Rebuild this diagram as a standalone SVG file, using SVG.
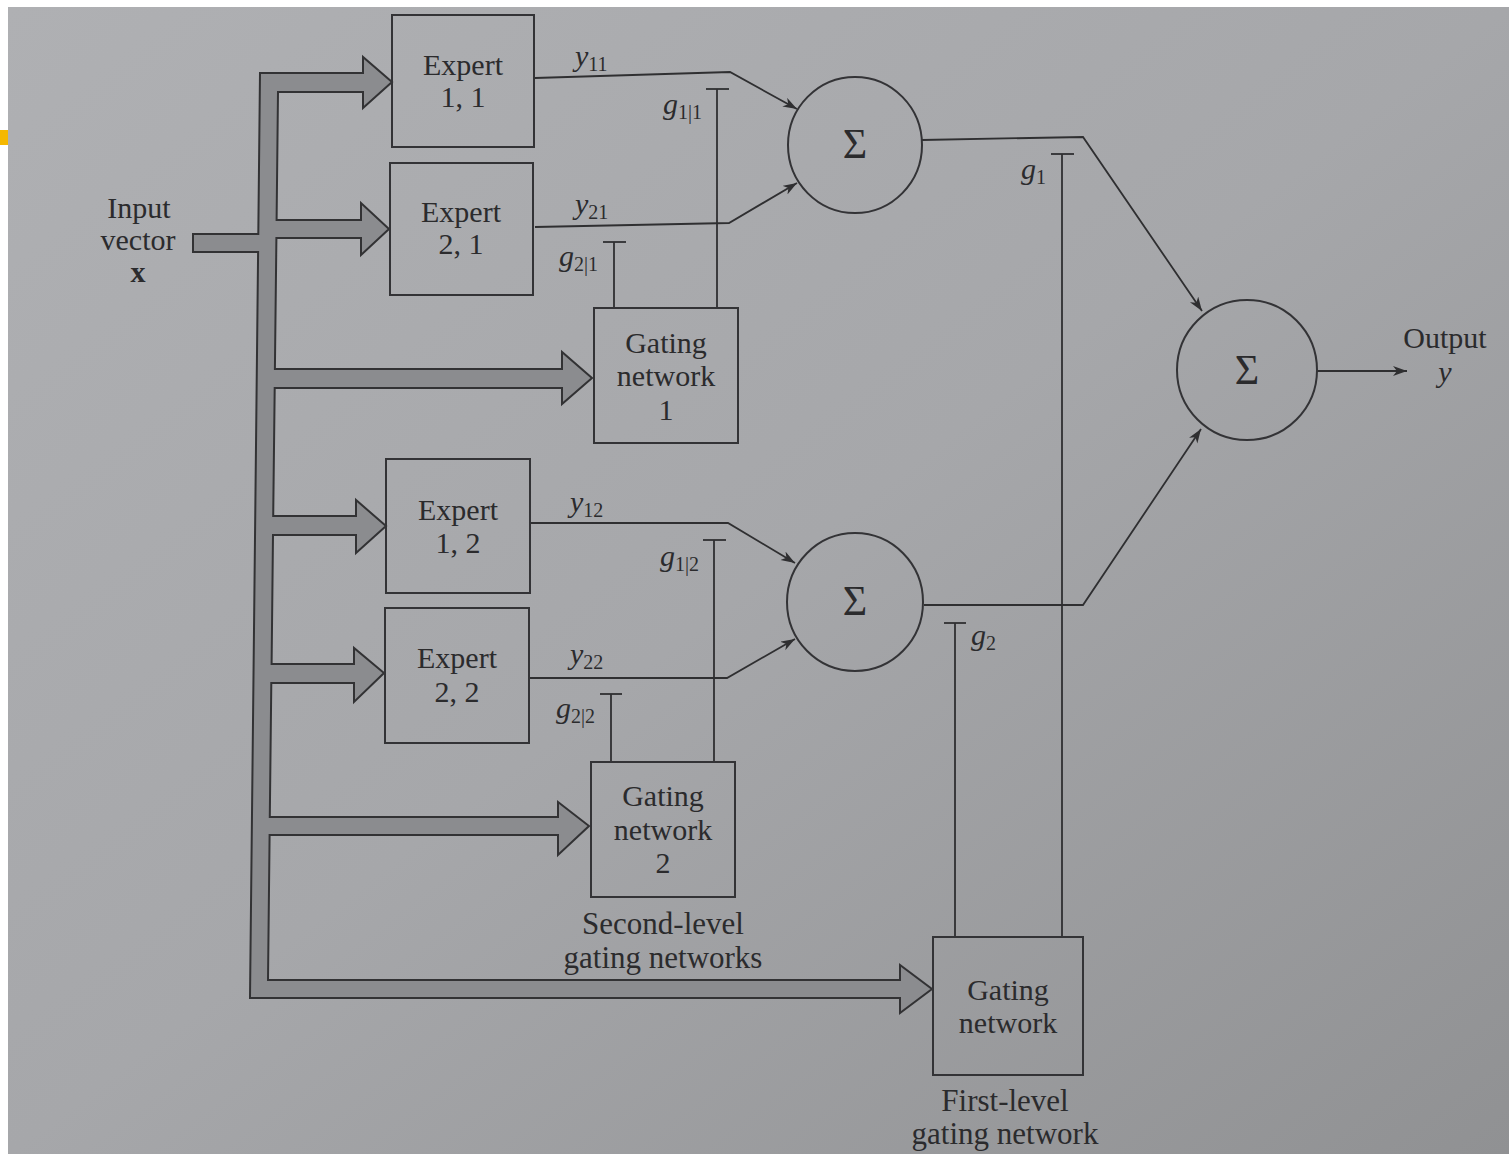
<svg xmlns="http://www.w3.org/2000/svg" width="1509" height="1154" viewBox="0 0 1509 1154">
<defs>
<linearGradient id="paper" x1="0" y1="0" x2="1" y2="1">
<stop offset="0" stop-color="#afb0b3"/>
<stop offset="0.5" stop-color="#a6a7aa"/>
<stop offset="1" stop-color="#909193"/>
</linearGradient>
<marker id="ah" markerUnits="userSpaceOnUse" markerWidth="16" markerHeight="12" refX="14" refY="5" orient="auto">
<path d="M0,0 L14,5 L0,10 L4,5 z" fill="#2f2f31"/>
</marker>
<style>
.box{fill:none;stroke:#333336;stroke-width:2}
.ln{fill:none;stroke:#2f2f31;stroke-width:1.8}
.t{font-family:"Liberation Serif","Times New Roman",serif;font-size:30px;fill:#2b2b2d;text-anchor:middle}
.c{font-family:"Liberation Serif","Times New Roman",serif;font-size:31px;fill:#2b2b2d;text-anchor:middle}
.l{font-family:"Liberation Serif","Times New Roman",serif;font-size:30px;fill:#2b2b2d}
.it{font-style:italic}
.sub{font-size:20px;font-style:normal}
.sig{font-family:"Liberation Serif","Times New Roman",serif;font-size:42px;fill:#2b2b2d;text-anchor:middle}
</style>
</defs>
<rect x="0" y="0" width="1509" height="1154" fill="#ffffff"/>
<rect x="8" y="7" width="1501" height="1147" fill="url(#paper)"/>
<rect x="0" y="130" width="8" height="15" fill="#f5b800"/>

<g id="bus">
<path d="M260,73 L363,73 L363,57 L392,82 L363,108 L363,92 L278,92 L276.6,220 L361,220 L361,203 L389,229 L361,255 L361,238 L276.4,238 L274.9,369 L562,369 L562,352 L592,378 L562,404 L562,388 L274.7,388 L273.2,516 L356,516 L356,500 L386,526 L356,553 L356,535 L273,535 L271.6,664 L354,664 L354,648 L384,673 L354,702 L354,683 L271.3,683 L269.8,817 L558,817 L558,802 L589,826 L558,855 L558,835 L269.6,835 L268,980 L900,980 L900,965 L932,989 L900,1013 L900,998 L250,998 L258.1,252 L193,252 L193,234 L258.3,234 Z" fill="#8b8c8f" stroke="#323234" stroke-width="2" stroke-linejoin="miter"/>
</g>

<g id="connectors">
<polyline class="ln" points="535,78 730,72 797,109" marker-end="url(#ah)"/>
<polyline class="ln" points="535,227 729,223 797,183" marker-end="url(#ah)"/>
<line class="ln" x1="717" y1="308" x2="717" y2="89"/>
<line class="ln" x1="706" y1="89" x2="729" y2="89"/>
<line class="ln" x1="614" y1="308" x2="614" y2="242"/>
<line class="ln" x1="603" y1="242" x2="626" y2="242"/>
<polyline class="ln" points="530,523 728,523 795,563" marker-end="url(#ah)"/>
<polyline class="ln" points="529,678 727,678 795,639" marker-end="url(#ah)"/>
<line class="ln" x1="714" y1="762" x2="714" y2="540"/>
<line class="ln" x1="703" y1="540" x2="726" y2="540"/>
<line class="ln" x1="611" y1="762" x2="611" y2="694"/>
<line class="ln" x1="600" y1="694" x2="622" y2="694"/>
<polyline class="ln" points="922,140 1083,137 1202,311" marker-end="url(#ah)"/>
<polyline class="ln" points="924,605 1083,605 1201,429" marker-end="url(#ah)"/>
<line class="ln" x1="1062" y1="937" x2="1062" y2="154"/>
<line class="ln" x1="1051" y1="154" x2="1074" y2="154"/>
<line class="ln" x1="955" y1="937" x2="955" y2="623"/>
<line class="ln" x1="944" y1="623" x2="966" y2="623"/>
<line class="ln" x1="1317" y1="371" x2="1407" y2="371" marker-end="url(#ah)"/>
</g>

<g id="labels">
<text class="l" x="575" y="66"><tspan class="it">y</tspan><tspan class="sub" dy="5">11</tspan></text>
<text class="l" x="575" y="214"><tspan class="it">y</tspan><tspan class="sub" dy="5">21</tspan></text>
<text class="l" x="663" y="114"><tspan class="it">g</tspan><tspan class="sub" dy="5">1|1</tspan></text>
<text class="l" x="559" y="266"><tspan class="it">g</tspan><tspan class="sub" dy="5">2|1</tspan></text>
<text class="l" x="570" y="512"><tspan class="it">y</tspan><tspan class="sub" dy="5">12</tspan></text>
<text class="l" x="570" y="664"><tspan class="it">y</tspan><tspan class="sub" dy="5">22</tspan></text>
<text class="l" x="660" y="566"><tspan class="it">g</tspan><tspan class="sub" dy="5">1|2</tspan></text>
<text class="l" x="556" y="718"><tspan class="it">g</tspan><tspan class="sub" dy="5">2|2</tspan></text>
<text class="l" x="1021" y="179"><tspan class="it">g</tspan><tspan class="sub" dy="5">1</tspan></text>
<text class="l" x="971" y="645"><tspan class="it">g</tspan><tspan class="sub" dy="5">2</tspan></text>
</g>

<g id="input">
<text class="t" x="139" y="218">Input</text>
<text class="t" x="138" y="250">vector</text>
<text class="t" x="138" y="282" font-weight="bold">x</text>
</g>

<g id="expert11">
<rect class="box" x="392" y="15" width="142" height="132"/>
<text class="t" x="463" y="75">Expert</text>
<text class="t" x="463" y="107">1, 1</text>
</g>
<g id="expert21">
<rect class="box" x="390" y="163" width="143" height="132"/>
<text class="t" x="461" y="222">Expert</text>
<text class="t" x="461" y="254">2, 1</text>
</g>
<g id="gating1">
<rect class="box" x="594" y="308" width="144" height="135"/>
<text class="t" x="666" y="353">Gating</text>
<text class="t" x="666" y="386">network</text>
<text class="t" x="666" y="420">1</text>
</g>
<g id="expert12">
<rect class="box" x="386" y="459" width="144" height="134"/>
<text class="t" x="458" y="520">Expert</text>
<text class="t" x="458" y="553">1, 2</text>
</g>
<g id="expert22">
<rect class="box" x="385" y="608" width="144" height="135"/>
<text class="t" x="457" y="668">Expert</text>
<text class="t" x="457" y="702">2, 2</text>
</g>
<g id="gating2">
<rect class="box" x="591" y="762" width="144" height="135"/>
<text class="t" x="663" y="806">Gating</text>
<text class="t" x="663" y="840">network</text>
<text class="t" x="663" y="873">2</text>
<text class="c" x="663" y="934">Second-level</text>
<text class="c" x="663" y="968">gating networks</text>
</g>
<g id="sum1">
<ellipse class="box" cx="855" cy="145" rx="67" ry="68"/>
<text class="sig" x="855" y="158">Σ</text>
</g>
<g id="sum2">
<ellipse class="box" cx="855" cy="602" rx="68" ry="69"/>
<text class="sig" x="855" y="615">Σ</text>
</g>
<g id="sum3">
<circle class="box" cx="1247" cy="370" r="70"/>
<text class="sig" x="1247" y="384">Σ</text>
</g>
<g id="gating0">
<rect class="box" x="933" y="937" width="150" height="138"/>
<text class="t" x="1008" y="1000">Gating</text>
<text class="t" x="1008" y="1033">network</text>
<text class="c" x="1005" y="1111">First-level</text>
<text class="c" x="1005" y="1144">gating network</text>
</g>
<g id="output">
<text class="t" x="1445" y="348">Output</text>
<text class="t it" x="1445" y="382">y</text>
</g>
</svg>
